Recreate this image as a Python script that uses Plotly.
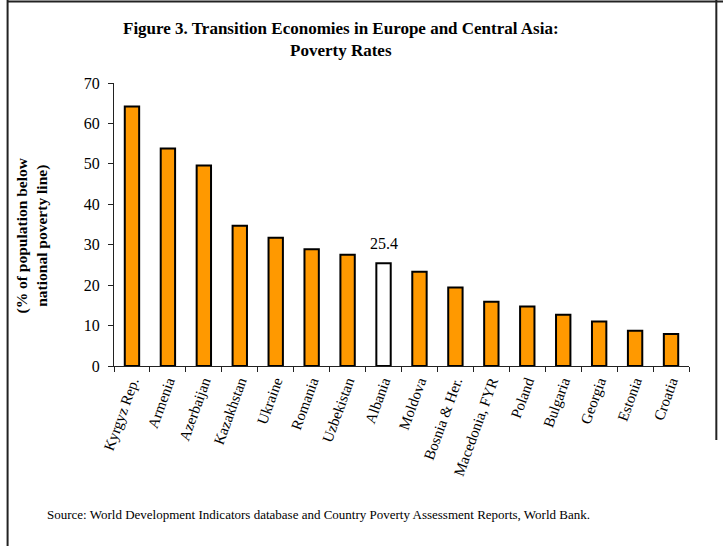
import plotly.graph_objects as go

# Poverty headcount (% below national poverty line), sorted high to low
countries = [
    "Kyrgyz Rep.", "Armenia", "Azerbaijan", "Kazakhstan", "Ukraine",
    "Romania", "Uzbekistan", "Albania", "Moldova", "Bosnia & Her.",
    "Macedonia, FYR", "Poland", "Bulgaria", "Georgia", "Estonia", "Croatia",
]
poverty_rate = [64.2, 53.8, 49.6, 34.7, 31.7, 28.9, 27.5, 25.4, 23.3,
                19.4, 15.9, 14.7, 12.7, 11.0, 8.7, 7.9]
highlight = "Albania"
y_ticks = [0, 10, 20, 30, 40, 50, 60, 70]

W, H = 723, 546
ML, MR, MT, MB = 114.3, 34.3, 83.3, 180
PW, PH = W - ML - MR, H - MT - MB


def px(x):
    return (x - ML) / PW


def py(y):
    return (H - MB - y) / PH


ORANGE = "#FF9900"
SERIF = "Liberation Serif, Times New Roman, serif"

fill = ["white" if c == highlight else ORANGE for c in countries]

fig = go.Figure(go.Bar(
    x=countries,
    y=poverty_rate,
    width=0.4,
    marker=dict(color=fill, line=dict(color="black", width=2)),
    cliponaxis=False,
))

# value label over the highlighted bar
hi = countries.index(highlight)
fig.add_annotation(
    x=countries[hi], y=poverty_rate[hi], text=f"{poverty_rate[hi]}",
    showarrow=False, yanchor="bottom", yshift=9,
    font=dict(family=SERIF, size=16, color="black"),
)

fig.update_layout(
    width=W, height=H,
    margin=dict(l=ML, r=MR, t=MT, b=MB, pad=0),
    paper_bgcolor="white", plot_bgcolor="white",
    showlegend=False,
    font=dict(family=SERIF, color="black"),
    bargap=0.6,
)

fig.update_xaxes(
    type="category",
    showline=True, linecolor="#222", linewidth=1,
    ticks="outside", tickson="boundaries", ticklen=5, tickcolor="#222",
    tickangle=-70,
    tickfont=dict(family=SERIF, size=15, color="black"),
    showgrid=False,
)
fig.update_yaxes(
    range=[0, 70], tickvals=y_ticks,
    showline=True, linecolor="#222", linewidth=1,
    ticks="outside", ticklen=5, tickcolor="#222",
    ticklabelstandoff=5,
    tickfont=dict(family=SERIF, size=16, color="black"),
    showgrid=False, zeroline=False,
)

fig.add_annotation(
    xref="paper", yref="paper", x=px(341), y=py(40),
    text="<b>Figure 3. Transition Economies in Europe and Central Asia:</b><br><b>Poverty Rates</b>",
    showarrow=False, font=dict(family=SERIF, size=17, color="black"),
    xanchor="center", yanchor="middle", align="center",
)
fig.add_annotation(
    xref="paper", yref="paper", x=px(32), y=py(236),
    text="<b>(% of population below</b><br><b>national poverty line)</b>",
    showarrow=False, textangle=-90,
    font=dict(family=SERIF, size=15.5, color="black"),
    xanchor="center", yanchor="middle", align="center",
)
fig.add_annotation(
    xref="paper", yref="paper", x=px(45), y=py(514),
    text="Source: World Development Indicators database and Country Poverty Assessment Reports, World Bank.",
    showarrow=False, font=dict(family=SERIF, size=13, color="black"),
    xanchor="left", yanchor="middle",
)

# page frame
frame = dict(color="#222", width=2)
fig.add_shape(type="line", xref="paper", yref="paper",
              x0=px(8), x1=px(8), y0=py(0), y1=py(546), line=frame)
fig.add_shape(type="line", xref="paper", yref="paper",
              x0=px(8), x1=px(723), y0=py(2), y1=py(2), line=frame)
fig.add_shape(type="line", xref="paper", yref="paper",
              x0=px(716), x1=px(716), y0=py(0), y1=py(440), line=frame)

fig.write_html("out.html")
